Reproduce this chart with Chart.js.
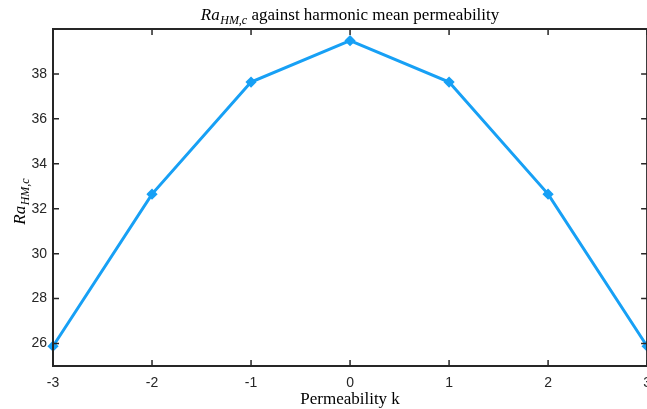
<!DOCTYPE html>
<html>
<head>
<meta charset="utf-8">
<script src="https://cdn.jsdelivr.net/npm/chart.js@4"></script>
<style>
  html, body { margin: 0; padding: 0; background: #fff; overflow: hidden; }
  #wrap { width: 647px; height: 409px; overflow: hidden; }
  #wrap div { width: 660px; height: 409px; }
</style>
</head>
<body>
<div id="wrap"><div><canvas id="ra_chart"></canvas></div></div>
<script>
const permeability = [-3, -2, -1, 0, 1, 2, 3];
const ra_hm = [25.88, 32.65, 37.64, 39.48, 37.64, 32.65, 25.88];
const x_ticks = [-3, -2, -1, 0, 1, 2, 3];
const y_ticks = [26, 28, 30, 32, 34, 36, 38];

const axis_color = "#262626";
const serif = "'Liberation Serif', 'DejaVu Serif', serif";
const label_size = 17;

// draws "Ra" with an italic subscript, returns the width used
function ra_label(ctx, x, y, size) {
    ctx.font = `italic ${size}px ${serif}`;
    ctx.fillText("Ra", x, y);
    let w = ctx.measureText("Ra").width;
    ctx.font = `italic ${Math.round(size * 0.7)}px ${serif}`;
    ctx.fillText("HM,c", x + w + 0.5, y + size * 0.25);
    return w + 0.5 + ctx.measureText("HM,c").width;
}

function ra_width(ctx, size) {
    ctx.font = `italic ${size}px ${serif}`;
    const w = ctx.measureText("Ra").width + 0.5;
    ctx.font = `italic ${Math.round(size * 0.7)}px ${serif}`;
    return w + ctx.measureText("HM,c").width;
}

const box_plugin = {
    id: "box",
    afterDraw(chart) {
        const ctx = chart.ctx;
        const a = chart.chartArea;
        const xs = chart.scales.x, ys = chart.scales.y;
        ctx.save();
        ctx.strokeStyle = axis_color;
        ctx.lineWidth = 2;
        ctx.strokeRect(a.left, a.top, a.right - a.left, a.bottom - a.top);
        ctx.lineWidth = 1.5;
        ctx.beginPath();
        x_ticks.forEach(v => {
            const px = xs.getPixelForValue(v);
            ctx.moveTo(px, a.bottom); ctx.lineTo(px, a.bottom - 6);
            ctx.moveTo(px, a.top); ctx.lineTo(px, a.top + 6);
        });
        y_ticks.forEach(v => {
            const py = ys.getPixelForValue(v);
            ctx.moveTo(a.left, py); ctx.lineTo(a.left + 6, py);
            ctx.moveTo(a.right, py); ctx.lineTo(a.right - 6, py);
        });
        ctx.stroke();

        // title
        ctx.fillStyle = "#000";
        ctx.textBaseline = "alphabetic";
        ctx.textAlign = "left";
        const rest = " against harmonic mean permeability";
        const ra_w = ra_width(ctx, label_size);
        ctx.font = `${label_size}px ${serif}`;
        const rest_w = ctx.measureText(rest).width;
        const cx = (a.left + a.right) / 2;
        let tx = cx - (ra_w + rest_w) / 2;
        tx += ra_label(ctx, tx, 20, label_size);
        ctx.font = `${label_size}px ${serif}`;
        ctx.fillText(rest, tx, 20);

        // x axis title
        ctx.textAlign = "center";
        ctx.font = `${label_size}px ${serif}`;
        ctx.fillText("Permeability k", cx, 404);

        // y axis title
        ctx.translate(25, (a.top + a.bottom) / 2 + 4);
        ctx.rotate(-Math.PI / 2);
        ctx.textAlign = "left";
        ra_label(ctx, -ra_w / 2, 0, label_size);
        ctx.restore();
    }
};

const chart = new Chart(document.getElementById("ra_chart"), {
    type: "line",
    data: {
        datasets: [{
            label: "Ra_HM,c",
            data: permeability.map((k, i) => ({ x: k, y: ra_hm[i] })),
            borderColor: "#17a0f5",
            backgroundColor: "#17a0f5",
            borderWidth: 3,
            pointStyle: "rectRot",
            pointRadius: 3.5,
            pointHoverRadius: 3.5,
            clip: false,
            tension: 0
        }]
    },
    options: {
        responsive: true,
        maintainAspectRatio: false,
        animation: false,
        layout: { padding: { top: 29, right: 10, left: 0, bottom: 0 } },
        plugins: { legend: { display: false }, tooltip: { enabled: false } },
        scales: {
            x: {
                type: "linear",
                min: -3, max: 3,
                afterBuildTicks: s => { s.ticks = x_ticks.map(v => ({ value: v })); },
                afterFit: s => { s.height = 43; },
                grid: { display: false, drawTicks: false },
                border: { display: false },
                ticks: {
                    padding: 9,
                    color: axis_color,
                    font: { family: "'Liberation Sans', Arial, sans-serif", size: 14 },
                    maxRotation: 0
                }
            },
            y: {
                min: 25, max: 40,
                afterBuildTicks: s => { s.ticks = y_ticks.map(v => ({ value: v })); },
                afterFit: s => { s.width = 53; },
                grid: { display: false, drawTicks: false },
                border: { display: false },
                ticks: {
                    padding: 6,
                    color: axis_color,
                    font: { family: "'Liberation Sans', Arial, sans-serif", size: 14 }
                }
            }
        }
    },
    plugins: [box_plugin]
});
</script>
</body>
</html>
